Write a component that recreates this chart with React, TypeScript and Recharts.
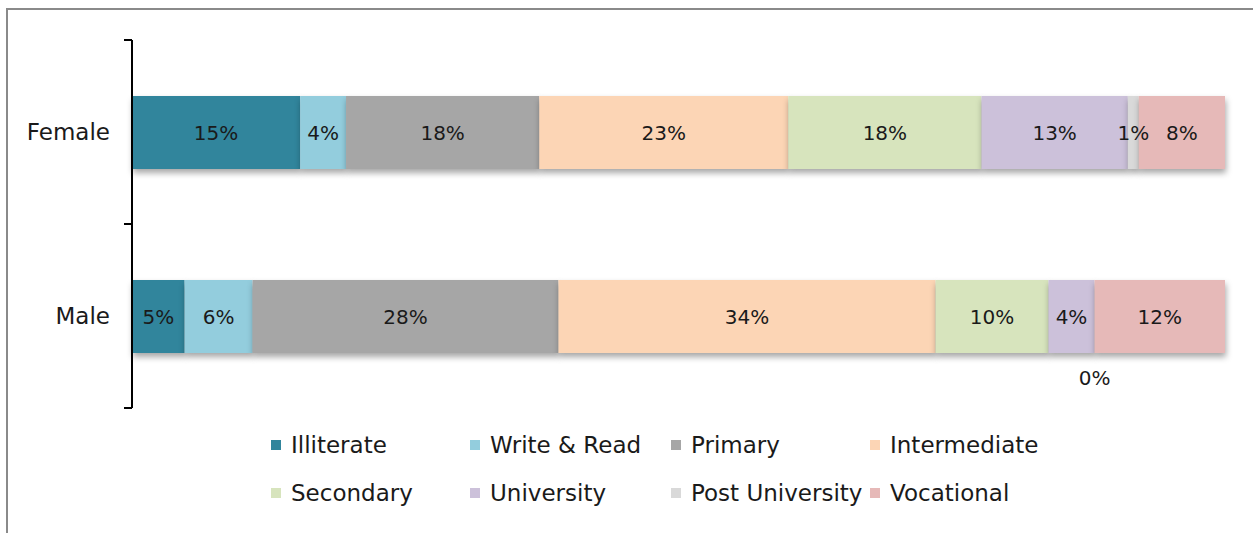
import React from 'react';
import { BarChart, Bar, XAxis, YAxis, LabelList } from 'recharts';

const categories = ['Female', 'Male'];
const seriesNames = ['Illiterate', 'Write & Read', 'Primary', 'Intermediate', 'Secondary', 'University', 'Post University', 'Vocational'];
const femaleValues = [15.4, 4.2, 17.7, 22.8, 17.7, 13.4, 1.0, 7.9];
const maleValues = [4.8, 6.2, 27.9, 34.4, 10.3, 4.2, 0, 11.9];
const seriesColors = ['#31859C', '#93CDDD', '#A6A6A6', '#FCD5B5', '#D7E4BD', '#CCC1DA', '#D9D9D9', '#E6B9B8'];

const valuesByCategory = [femaleValues, maleValues];
const seriesKeys = seriesNames.map((_, i) => `s${i}`);

const data = categories.map((name, ci) => {
  const row: Record<string, any> = { name };
  seriesKeys.forEach((k, si) => {
    row[k] = valuesByCategory[ci][si];
  });
  return row;
});

const FONT = '"DejaVu Sans", sans-serif';
const TEXT = '#1a1a1a';

const CategoryTick = (props: any) => {
  const { x, y, payload } = props;
  const off = payload && typeof payload.offset === 'number' && payload.offset > 0 ? payload.offset : 92;
  return (
    <g>
      <text x={x - 22} y={y} dy={8} textAnchor="end" fontFamily={FONT} fontSize={23} fill={TEXT}>
        {payload.value}
      </text>
      <line x1={x - 8} x2={x} y1={y - off} y2={y - off} stroke="#000" strokeWidth={2} />
      <line x1={x - 8} x2={x} y1={y + off} y2={y + off} stroke="#000" strokeWidth={2} />
    </g>
  );
};

const renderLabel = (props: any) => {
  const { x, y, width, height, value } = props;
  const v = Number(value);
  const label = `${Math.round(v)}%`;
  const cx = Number(x) + Number(width) / 2;
  if (v < 0.5) {
    return (
      <text x={cx} y={Number(y) + Number(height) + 25} dy={7} textAnchor="middle" fontFamily={FONT} fontSize={20} fill={TEXT}>
        {label}
      </text>
    );
  }
  return (
    <text x={cx} y={Number(y) + Number(height) / 2} dy={7} textAnchor="middle" fontFamily={FONT} fontSize={20} fill={TEXT}>
      {label}
    </text>
  );
};

const ShadowRect = (props: any) => {
  const { x, y, width, height, fill } = props;
  if (!(width > 0)) return <g />;
  return (
    <rect
      x={x}
      y={y}
      width={width}
      height={height}
      fill={fill}
      style={{ filter: 'drop-shadow(1px 4px 3px rgba(0,0,0,0.35))' }}
    />
  );
};

const legendLeft = [271, 470, 671, 870];
const legendTop = [445, 493];

export default function App() {
  return (
    <div style={{ position: 'absolute', left: 0, top: 0, width: 1253, height: 533, overflow: 'hidden', background: '#fff' }}>
      <div
        style={{
          position: 'absolute',
          left: 6,
          top: 8,
          width: 1400,
          height: 700,
          border: '2px solid #8a8a8a',
          boxSizing: 'border-box',
        }}
      />
      <div style={{ position: 'absolute', left: 0, top: 0 }}>
        <BarChart
          width={1253}
          height={533}
          data={data}
          layout="vertical"
          stackOffset="expand"
          barSize={73}
          margin={{ top: 40, right: 28, bottom: 125, left: 0 }}
        >
          <XAxis type="number" hide domain={[0, 1]} />
          <YAxis
            type="category"
            dataKey="name"
            width={132}
            axisLine={{ stroke: '#000', strokeWidth: 2 }}
            tickLine={false}
            tickSize={0}
            tickMargin={0}
            tick={<CategoryTick />}
          />
          {seriesKeys.map((k, i) => (
            <Bar
              key={k}
              dataKey={k}
              name={seriesNames[i]}
              stackId="a"
              fill={seriesColors[i]}
              isAnimationActive={false}
              shape={<ShadowRect />}
            >
              <LabelList dataKey={k} content={renderLabel} />
            </Bar>
          ))}
        </BarChart>
      </div>
      {seriesNames.map((n, i) => {
        const row = Math.floor(i / 4);
        const col = i % 4;
        return (
          <div
            key={n}
            style={{
              position: 'absolute',
              left: legendLeft[col],
              top: legendTop[row] - 13,
              height: 26,
              display: 'flex',
              alignItems: 'center',
              fontFamily: FONT,
              fontSize: 23,
              color: TEXT,
              whiteSpace: 'nowrap',
            }}
          >
            <span style={{ display: 'inline-block', width: 10, height: 10, background: seriesColors[i], marginRight: 10 }} />
            <span>{n}</span>
          </div>
        );
      })}
    </div>
  );
}
